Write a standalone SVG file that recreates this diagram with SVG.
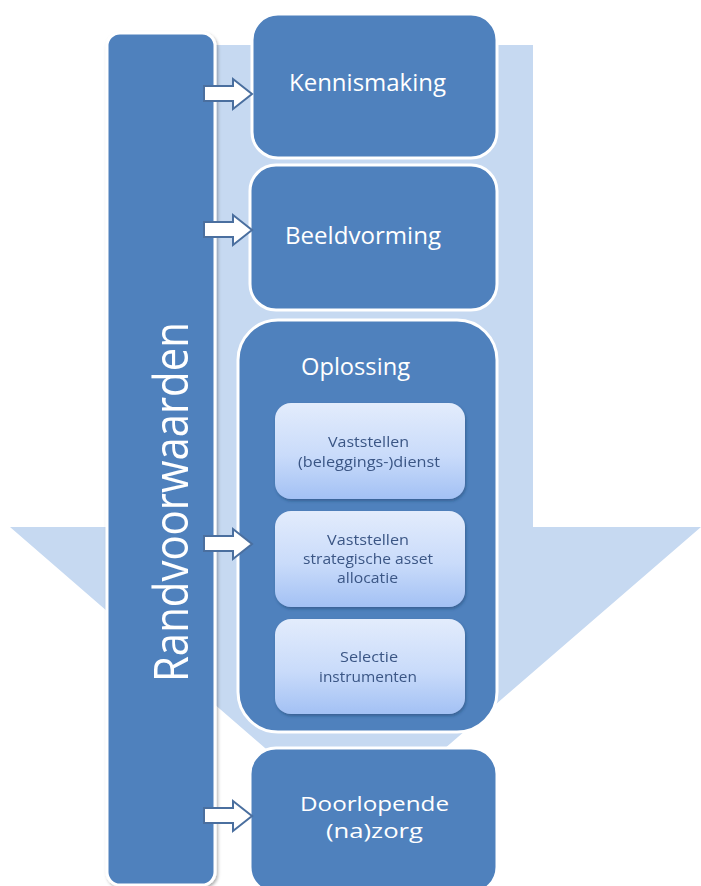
<svg xmlns="http://www.w3.org/2000/svg" width="701" height="886" viewBox="0 0 701 886">
<defs>
<linearGradient id="inner" x1="0" y1="0" x2="0" y2="1">
<stop offset="0" stop-color="#e3ecfc"/>
<stop offset="0.55" stop-color="#c9dbfa"/>
<stop offset="1" stop-color="#a3c1f4"/>
</linearGradient>
<filter id="sh" x="-10%" y="-10%" width="130%" height="130%">
<feDropShadow dx="1.5" dy="2" stdDeviation="1.5" flood-color="#000" flood-opacity="0.3"/>
</filter>
<filter id="sh2" x="-10%" y="-10%" width="130%" height="130%">
<feDropShadow dx="1" dy="2" stdDeviation="1.5" flood-color="#1f3a60" flood-opacity="0.45"/>
</filter>
</defs>
<style>
.main{fill:#4f81bd;stroke:#fff;stroke-width:3}
.inner{fill:url(#inner);stroke:none}
.t{font-family:"Open Sans","Liberation Sans",sans-serif;fill:#fff;text-anchor:middle;font-size:23px}
.ti{font-family:"Open Sans","Liberation Sans",sans-serif;fill:#3b5685;text-anchor:middle;font-size:14.5px}
.arr{fill:#fff;stroke:#4a6f9f;stroke-width:2;stroke-linejoin:miter}
</style>
<rect width="701" height="886" fill="#fff"/>
<polygon id="bigarrow" points="177,45 533,45 533,527 701,527 355,826 10,527 177,527" fill="#c6d9f1"/>
<g id="randvoorwaarden" filter="url(#sh)">
<rect class="main" x="107" y="33" width="108" height="852" rx="13"/>
<text class="t" style="font-size:47px" transform="translate(188,502) rotate(-90)" textLength="360" lengthAdjust="spacingAndGlyphs">Randvoorwaarden</text>
</g>
<g id="kennismaking">
<rect class="main" x="252" y="14" width="245" height="144" rx="26"/>
<text class="t" x="367.5" y="91" textLength="157" lengthAdjust="spacingAndGlyphs">Kennismaking</text>
</g>
<g id="beeldvorming">
<rect class="main" x="250" y="165" width="247" height="145" rx="26"/>
<text class="t" x="363" y="244" textLength="156" lengthAdjust="spacingAndGlyphs">Beeldvorming</text>
</g>
<g id="oplossing">
<rect class="main" x="238" y="320" width="259" height="412" rx="40"/>
<text class="t" x="355.5" y="375" textLength="109" lengthAdjust="spacingAndGlyphs">Oplossing</text>
</g>
<g id="vaststellen-dienst" filter="url(#sh2)">
<rect class="inner" x="275" y="403" width="190" height="96" rx="16"/>
<text class="ti" x="368.5" y="447" textLength="81" lengthAdjust="spacingAndGlyphs">Vaststellen</text>
<text class="ti" x="369" y="467" textLength="142" lengthAdjust="spacingAndGlyphs">(beleggings-)dienst</text>
</g>
<g id="vaststellen-saa" filter="url(#sh2)">
<rect class="inner" x="275" y="511" width="190" height="96" rx="16"/>
<text class="ti" x="368" y="545" textLength="82" lengthAdjust="spacingAndGlyphs">Vaststellen</text>
<text class="ti" x="368" y="564" textLength="130" lengthAdjust="spacingAndGlyphs" style="font-size:14px">strategische asset</text>
<text class="ti" x="367.5" y="583" textLength="61" lengthAdjust="spacingAndGlyphs" style="font-size:14px">allocatie</text>
</g>
<g id="selectie" filter="url(#sh2)">
<rect class="inner" x="275" y="619" width="190" height="95" rx="16"/>
<text class="ti" x="369" y="662" textLength="58" lengthAdjust="spacingAndGlyphs">Selectie</text>
<text class="ti" x="368" y="682" textLength="98" lengthAdjust="spacingAndGlyphs">instrumenten</text>
</g>
<g id="doorlopende">
<rect class="main" x="250" y="748" width="247" height="145" rx="26"/>
<text class="t" x="374.5" y="811" textLength="149" lengthAdjust="spacingAndGlyphs" style="font-size:20px">Doorlopende</text>
<text class="t" x="374.5" y="838" textLength="97" lengthAdjust="spacingAndGlyphs" style="font-size:20px">(na)zorg</text>
</g>
<g id="connectors">
<path class="arr" d="M204,86 H233 V79 L252,94 L233,109 V101 H204 Z"/>
<path class="arr" d="M204,222 H233 V215 L252,230 L233,245 V237 H204 Z"/>
<path class="arr" d="M204,536 H233 V529 L252,544 L233,559 V551 H204 Z"/>
<path class="arr" d="M204,808 H233 V801 L252,816 L233,831 V823 H204 Z"/>
</g>
</svg>
